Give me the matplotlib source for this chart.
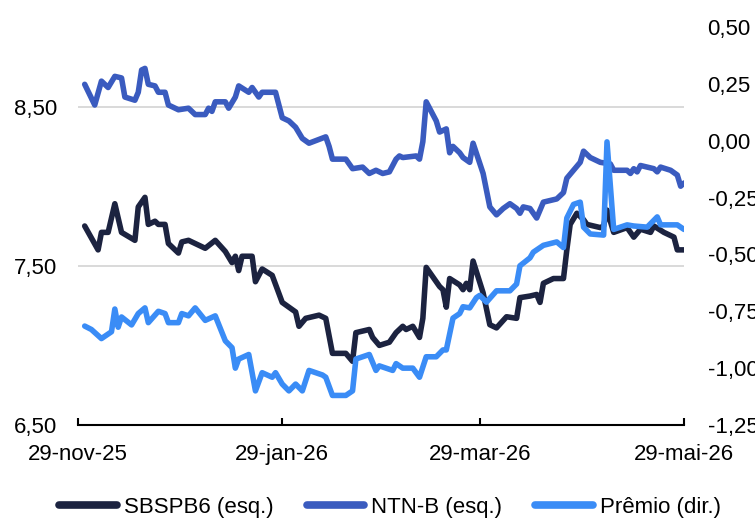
import matplotlib
matplotlib.use("Agg")
import matplotlib.pyplot as plt
import matplotlib.dates as mdates
from matplotlib.lines import Line2D
from matplotlib.ticker import FuncFormatter, FixedLocator
import pandas as pd

# --- data -------------------------------------------------------------
ntnb_dates = ["2025-12-01", "2025-12-04", "2025-12-06", "2025-12-08", "2025-12-10", "2025-12-12",
              "2025-12-13", "2025-12-16", "2025-12-17", "2025-12-18", "2025-12-19", "2025-12-20",
              "2025-12-22", "2025-12-23", "2025-12-25", "2025-12-26", "2025-12-29", "2026-01-01",
              "2026-01-03", "2026-01-06", "2026-01-07", "2026-01-08", "2026-01-09", "2026-01-12",
              "2026-01-13", "2026-01-15", "2026-01-16", "2026-01-19", "2026-01-20", "2026-01-22",
              "2026-01-23", "2026-01-27", "2026-01-29", "2026-01-31", "2026-02-02", "2026-02-04",
              "2026-02-06", "2026-02-11", "2026-02-12", "2026-02-13", "2026-02-17", "2026-02-19",
              "2026-02-22", "2026-02-24", "2026-02-26", "2026-02-28", "2026-03-02", "2026-03-04",
              "2026-03-05", "2026-03-06", "2026-03-10", "2026-03-11", "2026-03-12", "2026-03-13",
              "2026-03-16", "2026-03-17", "2026-03-19", "2026-03-20", "2026-03-21", "2026-03-23",
              "2026-03-24", "2026-03-26", "2026-03-27", "2026-03-30", "2026-04-01", "2026-04-03",
              "2026-04-05", "2026-04-07", "2026-04-09", "2026-04-10", "2026-04-11", "2026-04-13",
              "2026-04-15", "2026-04-17", "2026-04-21", "2026-04-23", "2026-04-24", "2026-04-26",
              "2026-04-28", "2026-04-29", "2026-05-01", "2026-05-04", "2026-05-07", "2026-05-08",
              "2026-05-12", "2026-05-13", "2026-05-14", "2026-05-15", "2026-05-16", "2026-05-20",
              "2026-05-21", "2026-05-22", "2026-05-25", "2026-05-27", "2026-05-28", "2026-05-29"]
ntnb_values = [8.64, 8.51, 8.66, 8.62, 8.69, 8.68,
               8.56, 8.54, 8.59, 8.73, 8.74, 8.64,
               8.63, 8.59, 8.59, 8.51, 8.48, 8.49,
               8.45, 8.45, 8.49, 8.47, 8.53, 8.53,
               8.49, 8.56, 8.63, 8.59, 8.62, 8.56,
               8.59, 8.59, 8.43, 8.41, 8.37, 8.30,
               8.27, 8.31, 8.25, 8.17, 8.17, 8.11,
               8.12, 8.08, 8.10, 8.08, 8.09, 8.17,
               8.19, 8.18, 8.19, 8.17, 8.28, 8.53,
               8.41, 8.34, 8.36, 8.21, 8.25, 8.21,
               8.18, 8.15, 8.27, 8.08, 7.87, 7.82,
               7.86, 7.89, 7.86, 7.83, 7.87, 7.86,
               7.80, 7.90, 7.92, 7.96, 8.05, 8.10,
               8.15, 8.22, 8.18, 8.15, 8.14, 8.10,
               8.10, 8.08, 8.11, 8.09, 8.13, 8.11,
               8.09, 8.12, 8.10, 8.07, 8.00, 8.02]

sbsp_dates = ["2025-12-01", "2025-12-05", "2025-12-06", "2025-12-08", "2025-12-10", "2025-12-12",
              "2025-12-16", "2025-12-17", "2025-12-19", "2025-12-20", "2025-12-22", "2025-12-23",
              "2025-12-25", "2025-12-26", "2025-12-29", "2025-12-30", "2026-01-01", "2026-01-06",
              "2026-01-09", "2026-01-12", "2026-01-14", "2026-01-15", "2026-01-16", "2026-01-17",
              "2026-01-20", "2026-01-21", "2026-01-23", "2026-01-26", "2026-01-29", "2026-01-31",
              "2026-02-02", "2026-02-03", "2026-02-05", "2026-02-09", "2026-02-11", "2026-02-13",
              "2026-02-17", "2026-02-19", "2026-02-20", "2026-02-24", "2026-02-25", "2026-02-27",
              "2026-03-02", "2026-03-04", "2026-03-06", "2026-03-07", "2026-03-09", "2026-03-11",
              "2026-03-12", "2026-03-13", "2026-03-17", "2026-03-18", "2026-03-19", "2026-03-20",
              "2026-03-23", "2026-03-24", "2026-03-25", "2026-03-26", "2026-03-27", "2026-03-30",
              "2026-04-01", "2026-04-03", "2026-04-06", "2026-04-09", "2026-04-10", "2026-04-13",
              "2026-04-15", "2026-04-16", "2026-04-17", "2026-04-20", "2026-04-23", "2026-04-24",
              "2026-04-25", "2026-04-27", "2026-04-29", "2026-04-30", "2026-05-04", "2026-05-05",
              "2026-05-06", "2026-05-08", "2026-05-12", "2026-05-14", "2026-05-16", "2026-05-19",
              "2026-05-20", "2026-05-23", "2026-05-26", "2026-05-27", "2026-05-29"]
sbsp_values = [7.75, 7.60, 7.71, 7.71, 7.89, 7.71,
               7.66, 7.87, 7.93, 7.76, 7.78, 7.76,
               7.76, 7.64, 7.58, 7.65, 7.66, 7.61,
               7.66, 7.59, 7.52, 7.56, 7.47, 7.56,
               7.56, 7.40, 7.48, 7.44, 7.27, 7.24,
               7.21, 7.12, 7.17, 7.19, 7.17, 6.95,
               6.95, 6.90, 7.08, 7.10, 7.05, 7.00,
               7.02, 7.08, 7.12, 7.10, 7.12, 7.05,
               7.17, 7.49, 7.37, 7.35, 7.24, 7.42,
               7.38, 7.35, 7.39, 7.35, 7.53, 7.33,
               7.13, 7.11, 7.18, 7.17, 7.30, 7.31,
               7.32, 7.27, 7.39, 7.42, 7.42, 7.60,
               7.76, 7.83, 7.79, 7.76, 7.74, 7.75,
               7.85, 7.71, 7.74, 7.68, 7.73, 7.71,
               7.75, 7.71, 7.68, 7.60, 7.60]

premio_dates = ["2025-12-01", "2025-12-03", "2025-12-06", "2025-12-09", "2025-12-10", "2025-12-11",
                "2025-12-12", "2025-12-15", "2025-12-17", "2025-12-19", "2025-12-20", "2025-12-23",
                "2025-12-25", "2025-12-26", "2025-12-29", "2025-12-30", "2026-01-01", "2026-01-03",
                "2026-01-06", "2026-01-09", "2026-01-12", "2026-01-14", "2026-01-15", "2026-01-16",
                "2026-01-19", "2026-01-21", "2026-01-23", "2026-01-26", "2026-01-27", "2026-01-29",
                "2026-01-31", "2026-02-02", "2026-02-04", "2026-02-06", "2026-02-10", "2026-02-11",
                "2026-02-13", "2026-02-17", "2026-02-19", "2026-02-20", "2026-02-24", "2026-02-26",
                "2026-02-27", "2026-02-28", "2026-03-03", "2026-03-04", "2026-03-06", "2026-03-09",
                "2026-03-11", "2026-03-13", "2026-03-16", "2026-03-18", "2026-03-19", "2026-03-21",
                "2026-03-23", "2026-03-24", "2026-03-26", "2026-03-28", "2026-03-29", "2026-03-31",
                "2026-04-03", "2026-04-07", "2026-04-09", "2026-04-10", "2026-04-13", "2026-04-14",
                "2026-04-17", "2026-04-21", "2026-04-23", "2026-04-24", "2026-04-26", "2026-04-28",
                "2026-04-29", "2026-05-01", "2026-05-05", "2026-05-06", "2026-05-08", "2026-05-12",
                "2026-05-14", "2026-05-18", "2026-05-20", "2026-05-21", "2026-05-22", "2026-05-26",
                "2026-05-27", "2026-05-29"]
premio_values = [-0.815, -0.83, -0.87, -0.84, -0.74, -0.82,
                 -0.775, -0.81, -0.76, -0.735, -0.80, -0.75,
                 -0.76, -0.80, -0.80, -0.76, -0.77, -0.735,
                 -0.79, -0.77, -0.88, -0.91, -1.00, -0.96,
                 -0.94, -1.10, -1.02, -1.04, -1.02, -1.07,
                 -1.10, -1.07, -1.10, -1.01, -1.03, -1.04,
                 -1.12, -1.12, -1.10, -0.96, -0.94, -1.01,
                 -0.99, -0.995, -1.01, -0.98, -1.00, -1.00,
                 -1.04, -0.95, -0.95, -0.92, -0.92, -0.78,
                 -0.76, -0.73, -0.735, -0.69, -0.68, -0.71,
                 -0.66, -0.66, -0.63, -0.55, -0.515, -0.49,
                 -0.46, -0.445, -0.47, -0.34, -0.28, -0.27,
                 -0.38, -0.41, -0.415, -0.005, -0.39, -0.37,
                 -0.375, -0.38, -0.35, -0.335, -0.37, -0.37,
                 -0.37, -0.39]

tick_dates = ["2025-11-29", "2026-01-29", "2026-03-29", "2026-05-29"]
tick_labels = ["29-nov-25", "29-jan-26", "29-mar-26", "29-mai-26"]
left_ticks = [6.5, 7.5, 8.5]
right_ticks = [-1.25, -1.0, -0.75, -0.5, -0.25, 0.0, 0.25, 0.5]

series_names = ["SBSPB6 (esq.)", "NTN-B (esq.)", "Prêmio (dir.)"]

# --- style --------------------------------------------------------------
plt.rcParams["font.family"] = ["Liberation Sans", "DejaVu Sans"]
plt.rcParams["font.size"] = 16

c_sbsp = "#1c2340"
c_ntnb = "#3a5bbf"
c_premio = "#3a8cf6"
lw = 4.0

fig = plt.figure(figsize=(7.55, 5.18), dpi=100)
ax = fig.add_axes([78 / 755, 1 - 425 / 518, (684 - 78) / 755, (425 - 27) / 518])
ax2 = ax.twinx()

line_kw = dict(lw=lw, solid_joinstyle="round", solid_capstyle="round")
ax.plot(pd.to_datetime(ntnb_dates), ntnb_values, color=c_ntnb, **line_kw)
ax.plot(pd.to_datetime(sbsp_dates), sbsp_values, color=c_sbsp, **line_kw)
ax2.plot(pd.to_datetime(premio_dates), premio_values, color=c_premio, **line_kw)

# axes limits and ticks
ax.set_xlim(pd.Timestamp(tick_dates[0]), pd.Timestamp(tick_dates[-1]))
ax.set_ylim(6.5, 9.0)
ax2.set_ylim(-1.25, 0.5)

comma = FuncFormatter(lambda v, _: f"{v:.2f}".replace(".", ","))
ax.yaxis.set_major_locator(FixedLocator(left_ticks))
ax.yaxis.set_major_formatter(comma)
ax2.yaxis.set_major_locator(FixedLocator(right_ticks))
ax2.yaxis.set_major_formatter(comma)

ax.set_xticks(mdates.date2num(pd.to_datetime(tick_dates)))
ax.set_xticklabels(tick_labels)

ax.tick_params(axis="x", direction="in", length=5, width=1.5, pad=14, color="black")
ax.tick_params(axis="y", length=0, pad=15)
ax2.tick_params(axis="y", length=0, pad=17)
for lab in ax2.get_yticklabels():
    lab.set_horizontalalignment("left")

ax.grid(axis="y", color="#d9d9d9", lw=1.4)
ax.grid(axis="x", visible=False)
ax.set_axisbelow(True)

for a in (ax, ax2):
    for side in ("left", "right", "top"):
        a.spines[side].set_visible(False)
ax2.spines["bottom"].set_visible(False)
ax.spines["bottom"].set_color("black")
ax.spines["bottom"].set_linewidth(1.5)

# legend below the plot
handles = [Line2D([], [], color=c, lw=5.5, solid_capstyle="round")
           for c in (c_sbsp, c_ntnb, c_premio)]
fig.legend(handles, series_names, loc="center", bbox_to_anchor=(390 / 755, 1 - 507 / 518),
           ncol=3, frameon=False, handlelength=2.6, handletextpad=0.3,
           columnspacing=1.5, borderaxespad=0, borderpad=0)

fig.savefig("out.png", dpi=100)
